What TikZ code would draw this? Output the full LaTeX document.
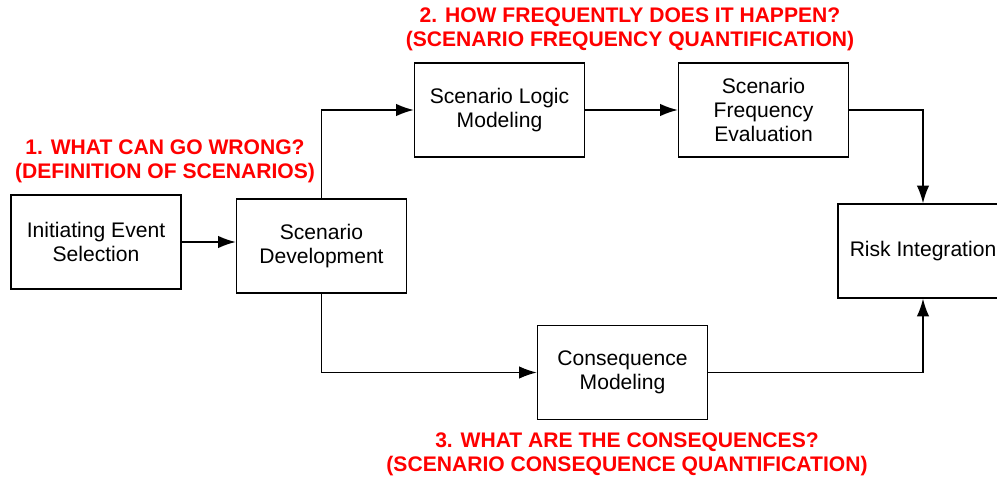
\documentclass[tikz,border=0pt]{standalone}
\usepackage{fontspec}
\setmainfont{Liberation Sans}
\usetikzlibrary{arrows.meta}

\begin{document}
\begin{tikzpicture}[
        stage/.style={draw, line width=0.8pt, minimum width=3.4cm, minimum height=1.88cm,
            align=center, font=\fontsize{12}{13.6}\selectfont},
        question/.style={text=red, align=center, font=\fontsize{12}{13.8}\selectfont\bfseries},
        flow/.style={line width=0.8pt, -{Latex[length=10pt,width=7pt]}}
    ]
        \clip (0,0) rectangle (19.94,9.58);

        \node[stage] (ies) at (1.92,4.74) {Initiating Event\\Selection};
        \node[stage] (sd) at (6.43,4.66) {Scenario\\Development};
        \node[stage] (slm) at (9.99,7.38) {Scenario Logic\\Modeling};
        \node[stage] (sfe) at (15.27,7.38) {Scenario\\Frequency\\Evaluation};
        \node[stage] (ri) at (18.46,4.56) {Risk Integration};
        \node[stage] (cm) at (12.45,2.13) {Consequence\\Modeling};

        \draw[flow] (ies.east) -- (ies.east -| sd.west);
        \draw[flow] (sd.north) |- (slm.west);
        \draw[flow] (slm) -- (sfe);
        \draw[flow] (sfe.east) -| (ri.north);
        \draw[flow] (sd.south) |- (cm.west);
        \draw[flow] (cm.east) -| (ri.south);

        \node[question] (q1) at (3.30,6.35) {1. WHAT CAN GO WRONG?\\(DEFINITION OF SCENARIOS)};
        \node[question] (q2) at (12.6,8.99) {2. HOW FREQUENTLY DOES IT HAPPEN?\\(SCENARIO FREQUENCY QUANTIFICATION)};
        \node[question] (q3) at (12.54,0.50) {3. WHAT ARE THE CONSEQUENCES?\\(SCENARIO CONSEQUENCE QUANTIFICATION)};
    \end{tikzpicture}
\end{document}
